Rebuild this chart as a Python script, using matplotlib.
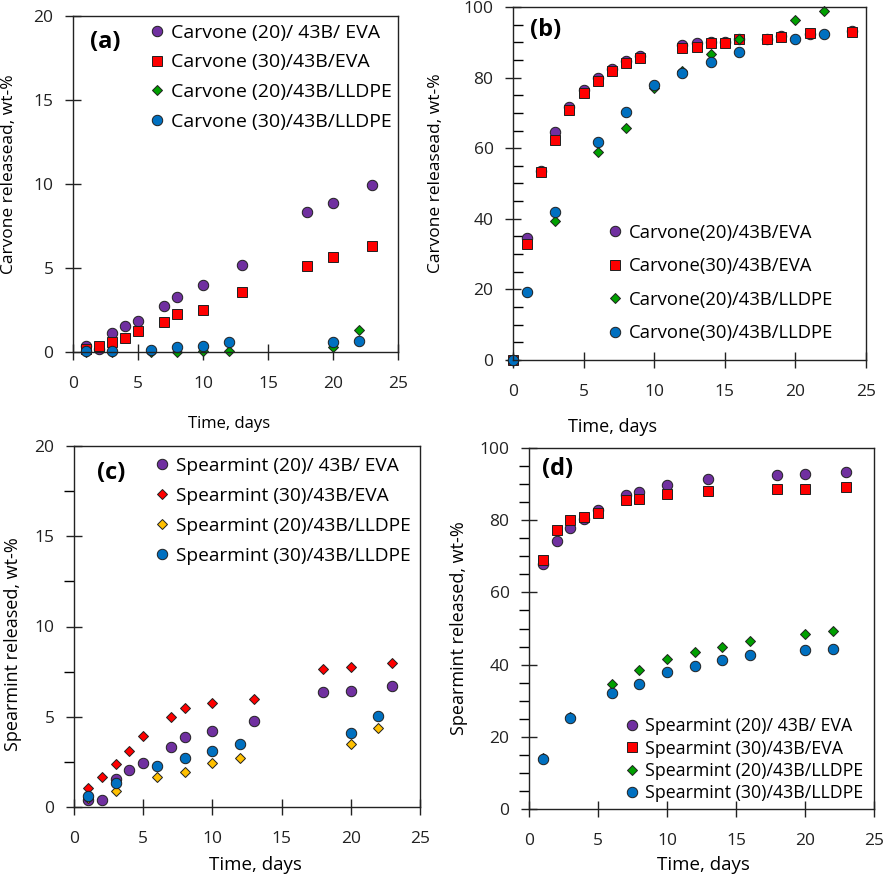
import matplotlib
matplotlib.use("Agg")
import matplotlib.pyplot as plt
from matplotlib.ticker import MultipleLocator

plt.rcParams['font.family'] = ['Open Sans', 'DejaVu Sans']

# ---- data ----
# (a) carvone, low loading
a_days_eva = [1, 2, 3, 4, 5, 7, 8, 10, 13, 18, 20, 23]
a_c20_eva = [0.33, 0.15, 1.13, 1.52, 1.86, 2.75, 3.27, 4.0, 5.19, 8.32, 8.85, 9.96]
a_c30_eva = [0.18, 0.38, 0.6, 0.81, 1.27, 1.78, 2.24, 2.51, 3.56, 5.13, 5.64, 6.32]
a_days_pe = [1, 3, 6, 8, 10, 12, 20, 22]
a_c20_pe = [0.0, 0.0, 0.0, 0.0, 0.05, 0.05, 0.3, 1.33]
a_c30_pe = [0.08, 0.05, 0.14, 0.3, 0.38, 0.57, 0.6, 0.67]

# (b) carvone
b_days_eva = [0, 1, 2, 3, 4, 5, 6, 7, 8, 9, 12, 13, 14, 15, 16, 18, 19, 21, 24]
b_c20_eva = [0, 34.6, 53.5, 64.7, 71.8, 76.4, 80.0, 82.4, 84.8, 86.0, 89.2, 89.8, 90.1, 90.0, 91.0, 91.0, 91.7, 92.4, 93.1]
b_c30_eva = [0, 33.0, 53.2, 62.4, 70.7, 75.6, 79.1, 82.0, 84.2, 85.5, 88.3, 88.8, 89.8, 89.8, 90.9, 90.9, 91.5, 92.6, 93.0]
b_days_pe = [0, 1, 3, 6, 8, 10, 12, 14, 16, 20, 22]
b_c20_pe = [0, 19.4, 39.4, 58.9, 65.7, 77.0, 82.0, 86.7, 90.9, 96.4, 98.8]
b_c30_pe = [0, 19.2, 41.8, 61.7, 70.2, 77.8, 81.3, 84.4, 87.2, 90.9, 92.3]

# (c) spearmint, low loading
c_days_eva = [1, 2, 3, 4, 5, 7, 8, 10, 13, 18, 20, 23]
c_s20_eva = [0.4, 0.4, 1.55, 2.03, 2.43, 3.32, 3.89, 4.22, 4.79, 6.36, 6.43, 6.71]
c_s30_eva = [1.05, 1.66, 2.38, 3.12, 3.96, 5.01, 5.47, 5.75, 5.97, 7.63, 7.76, 7.96]
c_days_pe = [1, 3, 6, 8, 10, 12, 20, 22]
c_s20_pe = [0.5, 0.9, 1.66, 1.94, 2.43, 2.69, 3.48, 4.37]
c_s30_pe = [0.63, 1.33, 2.29, 2.71, 3.12, 3.47, 4.09, 5.05]

# (d) spearmint
d_days_eva = [1, 2, 3, 4, 5, 7, 8, 10, 13, 18, 20, 23]
d_s20_eva = [67.9, 74.1, 77.8, 80.3, 82.9, 87.1, 87.7, 89.8, 91.4, 92.5, 92.9, 93.4]
d_s30_eva = [69.1, 77.4, 80.1, 80.8, 82.0, 85.5, 86.0, 87.3, 88.0, 88.6, 88.6, 89.1]
d_days_pe = [1, 3, 6, 8, 10, 12, 14, 16, 20, 22]
d_s20_pe = [14.1, 25.5, 34.6, 38.4, 41.6, 43.4, 45.0, 46.5, 48.6, 49.2]
d_s30_pe = [13.9, 25.2, 32.1, 34.5, 38.0, 39.7, 41.2, 42.6, 44.0, 44.3]

PURPLE = '#7030A0'
RED = '#FF0000'
GREEN = '#00A000'
BLUE = '#0070C0'
YELLOW = '#FFC000'

W, H = 886, 877
fig = plt.figure(figsize=(W / 100, H / 100), dpi=100)


def box(l, t, r, b):
    # pixel box -> figure fraction rect
    return [l / W, 1 - b / H, (r - l) / W, (b - t) / H]


def pts(ax, x, y, marker, color, label, ms):
    ax.plot(x, y, linestyle='none', marker=marker, markersize=ms, markerfacecolor=color,
            markeredgecolor='#202020', markeredgewidth=0.7, label=label, clip_on=False)


def style(ax, ymax, ymajor, yminor, minor_dir):
    ax.set_xlim(0, 25)
    ax.set_ylim(0, ymax)
    ax.xaxis.set_major_locator(MultipleLocator(5))
    ax.yaxis.set_major_locator(MultipleLocator(ymajor))
    if yminor:
        ax.yaxis.set_minor_locator(MultipleLocator(yminor))
        ax.tick_params(axis='y', which='minor', direction=minor_dir, length=7, width=1)
    ax.tick_params(axis='both', which='major', direction='inout', length=12, width=1,
                   labelsize=12.5, colors='#222222')
    ax.tick_params(axis='x', which='major', pad=11)
    ax.tick_params(axis='y', which='major', pad=8)
    for s in ax.spines.values():
        s.set_linewidth(1)
        s.set_color('#222222')


def leg(ax, x, y, fs, sp):
    ax.legend(loc='upper left', bbox_to_anchor=(x, y), frameon=False, fontsize=fs,
              borderpad=0, borderaxespad=0, handlelength=0.8, handletextpad=0.35,
              labelspacing=sp, numpoints=1)


# (a)
ax = fig.add_axes(box(73, 16, 398, 352))
pts(ax, a_days_eva, a_c20_eva, 'o', PURPLE, 'Carvone (20)/ 43B/ EVA', 7.5)
pts(ax, a_days_eva, a_c30_eva, 's', RED, 'Carvone (30)/43B/EVA', 7.5)
pts(ax, a_days_pe, a_c20_pe, 'D', GREEN, 'Carvone (20)/43B/LLDPE', 5.5)
pts(ax, a_days_pe, a_c30_pe, 'o', BLUE, 'Carvone (30)/43B/LLDPE', 7.5)
style(ax, 20, 5, None, 'out')
ax.set_ylabel('Carvone releasead, wt-%', fontsize=12.5)
ax.yaxis.set_label_coords(-0.172, 0.53)
ax.set_xlabel('Time, days', fontsize=12)
ax.xaxis.set_label_coords(0.48, -0.19)
ax.text(0.052, 0.923, '(a)', transform=ax.transAxes, fontsize=17, fontweight='bold', va='center')
leg(ax, 0.234, 0.977, 14, 0.6)

# (b)
ax = fig.add_axes(box(513, 7, 866, 360))
pts(ax, b_days_eva, b_c20_eva, 'o', PURPLE, 'Carvone(20)/43B/EVA', 7.5)
pts(ax, b_days_eva, b_c30_eva, 's', RED, 'Carvone(30)/43B/EVA', 7.5)
pts(ax, b_days_pe, b_c20_pe, 'D', GREEN, 'Carvone(20)/43B/LLDPE', 5.5)
pts(ax, b_days_pe, b_c30_pe, 'o', BLUE, 'Carvone(30)/43B/LLDPE', 7.5)
style(ax, 100, 20, 5, 'in')
ax.set_ylabel('Carvone releasead, wt-%', fontsize=12.5)
ax.yaxis.set_label_coords(-0.195, 0.53)
ax.set_xlabel('Time, days', fontsize=13)
ax.xaxis.set_label_coords(0.283, -0.164)
ax.text(0.048, 0.935, '(b)', transform=ax.transAxes, fontsize=17, fontweight='bold', va='center')
leg(ax, 0.268, 0.386, 13.3, 0.84)

# (c)
ax = fig.add_axes(box(74, 446, 420, 807))
pts(ax, c_days_eva, c_s20_eva, 'o', PURPLE, 'Spearmint (20)/ 43B/ EVA', 7.5)
pts(ax, c_days_eva, c_s30_eva, 'D', RED, 'Spearmint (30)/43B/EVA', 5.5)
pts(ax, c_days_pe, c_s20_pe, 'D', YELLOW, 'Spearmint (20)/43B/LLDPE', 5.5)
pts(ax, c_days_pe, c_s30_pe, 'o', BLUE, 'Spearmint (30)/43B/LLDPE', 7.5)
style(ax, 20, 5, 2.5, 'out')
ax.set_ylabel('Spearmint released, wt-%', fontsize=13)
ax.yaxis.set_label_coords(-0.15, 0.45)
ax.set_xlabel('Time, days', fontsize=13.5)
ax.xaxis.set_label_coords(0.523, -0.136)
ax.text(0.066, 0.925, '(c)', transform=ax.transAxes, fontsize=17, fontweight='bold', va='center')
leg(ax, 0.231, 0.969, 13.8, 0.62)

# (d)
ax = fig.add_axes(box(529, 448, 874, 809))
pts(ax, d_days_eva, d_s20_eva, 'o', PURPLE, 'Spearmint (20)/ 43B/ EVA', 7.5)
pts(ax, d_days_eva, d_s30_eva, 's', RED, 'Spearmint (30)/43B/EVA', 7.5)
pts(ax, d_days_pe, d_s20_pe, 'D', GREEN, 'Spearmint (20)/43B/LLDPE', 5.5)
pts(ax, d_days_pe, d_s30_pe, 'o', BLUE, 'Spearmint (30)/43B/LLDPE', 7.5)
style(ax, 100, 20, 5, 'out')
ax.set_ylabel('Spearmint released, wt-%', fontsize=13)
ax.yaxis.set_label_coords(-0.177, 0.5)
ax.set_xlabel('Time, days', fontsize=13.5)
ax.xaxis.set_label_coords(0.507, -0.13)
ax.text(0.038, 0.942, '(d)', transform=ax.transAxes, fontsize=17, fontweight='bold', va='center')
leg(ax, 0.278, 0.254, 12.8, 0.24)

fig.savefig('out.png', dpi=100)
